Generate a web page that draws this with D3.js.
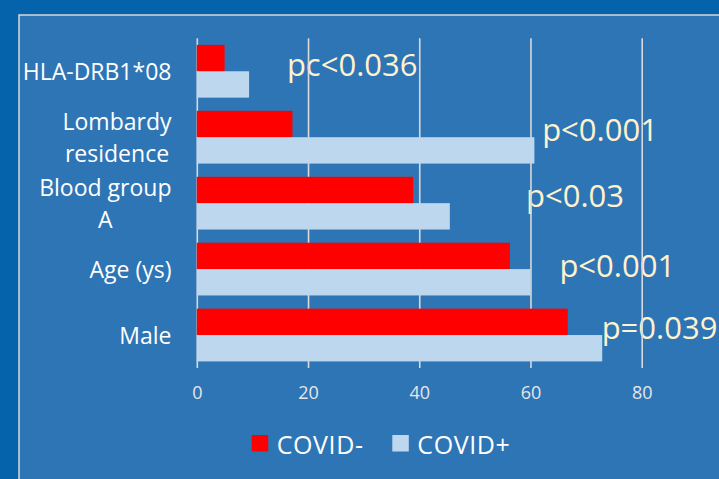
<!DOCTYPE html>
<html><head><meta charset="utf-8">
<script src="https://cdn.jsdelivr.net/npm/d3@7"></script>
<style>html,body{margin:0;padding:0;background:#0563AC;}svg{display:block;}</style>
</head><body>
<svg id="chart" width="719" height="479"></svg>
<script>
const categories = [["HLA-DRB1*08"], ["Lombardy", "residence"], ["Blood group", "A"], ["Age (ys)"], ["Male"]];
const seriesNames = ["COVID-", "COVID+"];
const covidNeg = [5, 17.2, 38.9, 56.3, 66.7];
const covidPos = [9.4, 60.7, 45.5, 60, 72.9];
const pLabels = ["pc<0.036", "p<0.001", "p<0.03", "p<0.001", "p=0.039"];
const pLabelX = [16.2, 62.1, 59.2, 65.2, 72.8];
const xTicks = [0, 20, 40, 60, 80];

const colors = {"COVID-": "#FF0000", "COVID+": "#BDD7EE"};
const svg = d3.select("#chart");
const font = "'Open Sans', sans-serif";

// background panels
svg.append("rect").attr("x", 0).attr("y", 0).attr("width", 719).attr("height", 479).attr("fill", "#0563AC");
svg.append("rect").attr("x", 19).attr("y", 15).attr("width", 720).attr("height", 480)
  .attr("fill", "#2E75B6").attr("stroke", "#D9D9D9").attr("stroke-width", 1.5);

const x = d3.scaleLinear().domain([0, 80]).range([196.8, 641.7]);
const keys = categories.map(c => c.join(" "));
const y = d3.scaleBand().domain(keys).range([38.3, 368]).paddingInner(0.2).paddingOuter(0.1);
const ySub = d3.scaleBand().domain(seriesNames).range([0, y.bandwidth()]);

// p-value annotations (behind gridlines)
svg.append("g").selectAll("text").data(pLabels).join("text")
  .attr("x", (d, i) => x(pLabelX[i]))
  .attr("y", (d, i) => y(keys[i]) + y.bandwidth() / 2 + [-7, -8, -8, -4, -8][i])
  .attr("dominant-baseline", "central")
  .attr("font-family", font).attr("font-size", 31).attr("fill", "#FFF2CC")
  .text(d => d);

// gridlines
const xAxis = d3.axisBottom(x).tickValues(xTicks).tickSize(-(368 - 38.3)).tickSizeOuter(0).tickPadding(18);
const gx = svg.append("g").attr("transform", "translate(0,368)").call(xAxis);
gx.select(".domain").remove();
gx.selectAll(".tick line").attr("stroke", "#D9D9D9").attr("stroke-width", 1.6);
gx.selectAll(".tick text").attr("font-family", font).attr("font-size", 18).attr("fill", "#E6E6E6");

// bars
const data = keys.map((k, i) => ({k, vals: [{s: "COVID-", v: covidNeg[i]}, {s: "COVID+", v: covidPos[i]}]}));
const groups = svg.append("g").selectAll("g").data(data).join("g")
  .attr("transform", d => `translate(0,${y(d.k)})`);
groups.selectAll("rect").data(d => d.vals).join("rect")
  .attr("x", x(0)).attr("y", d => ySub(d.s))
  .attr("width", d => x(d.v) - x(0)).attr("height", ySub.bandwidth())
  .attr("fill", d => colors[d.s]);

// category labels
const labelRight = 171.5;
const lg = svg.append("g");
categories.forEach((lines, i) => {
  const cy = y(keys[i]) + y.bandwidth() / 2;
  const tmp = lines.map(l => lg.append("text").attr("font-family", font).attr("font-size", 23)
    .attr("fill", "#FFFFFF").attr("dominant-baseline", "central").text(l));
  const widths = tmp.map(t => t.node().getComputedTextLength());
  const maxW = d3.max(widths);
  const cx = labelRight - maxW / 2;
  const lh = 32;
  tmp.forEach((t, j) => {
    t.attr("text-anchor", "middle").attr("x", cx).attr("y", cy + (j - (lines.length - 1) / 2) * lh);
  });
});

// legend
const legend = svg.append("g");
const legX = [251.7, 392.3];
seriesNames.forEach((s, i) => {
  legend.append("rect").attr("x", legX[i]).attr("y", 435).attr("width", 16.5).attr("height", 16.5).attr("fill", colors[s]);
  legend.append("text").attr("x", legX[i] + 25).attr("y", 443.5).attr("dominant-baseline", "central")
    .attr("font-family", font).attr("font-size", 25).attr("letter-spacing", 0.6).attr("fill", "#FFFFFF").text(s);
});
</script>
</body></html>
